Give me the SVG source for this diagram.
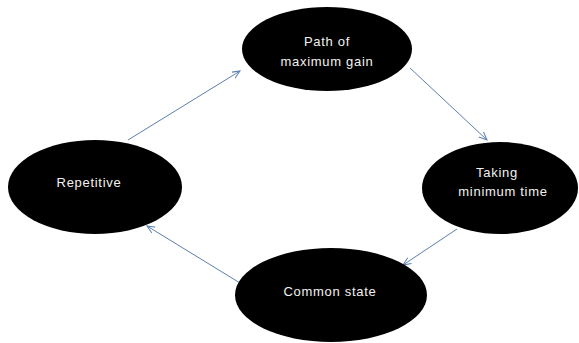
<svg xmlns="http://www.w3.org/2000/svg" width="579" height="343" viewBox="0 0 579 343">
<style>
.node{fill:#000}
.lbl{fill:#f2f2f2;font-family:"Liberation Sans","DejaVu Sans",sans-serif;font-size:13px;letter-spacing:0.7px;text-anchor:middle}
.edge{stroke:#5b7fae;stroke-width:1;fill:none;marker-end:url(#ah)}
</style>
<defs>
<marker id="ah" markerWidth="10" markerHeight="10" refX="8" refY="4" orient="auto" markerUnits="userSpaceOnUse">
<path d="M0,0.5 L8,4 L0,7.5" fill="none" stroke="#5b7fae" stroke-width="1"/>
</marker>
</defs>
<rect width="579" height="343" fill="#fff"/>
<g id="edges">
<line class="edge" x1="128" y1="140" x2="240" y2="71"/>
<line class="edge" x1="410" y1="68" x2="487" y2="140"/>
<line class="edge" x1="457" y1="229" x2="403" y2="265"/>
<line class="edge" x1="240" y1="283" x2="147" y2="226"/>
</g>
<g id="path-of-maximum-gain">
<ellipse class="node" cx="327" cy="49" rx="85" ry="42"/>
<text class="lbl" x="327" y="46">Path of</text>
<text class="lbl" x="327" y="66">maximum gain</text>
</g>
<g id="taking-minimum-time">
<ellipse class="node" cx="500" cy="188" rx="78" ry="46"/>
<text class="lbl" x="497" y="177">Taking</text>
<text class="lbl" x="503" y="196">minimum time</text>
</g>
<g id="common-state">
<ellipse class="node" cx="331" cy="295" rx="96" ry="47"/>
<text class="lbl" x="330" y="296">Common state</text>
</g>
<g id="repetitive">
<ellipse class="node" cx="95" cy="187" rx="87" ry="47"/>
<text class="lbl" x="89" y="187">Repetitive</text>
</g>
</svg>
